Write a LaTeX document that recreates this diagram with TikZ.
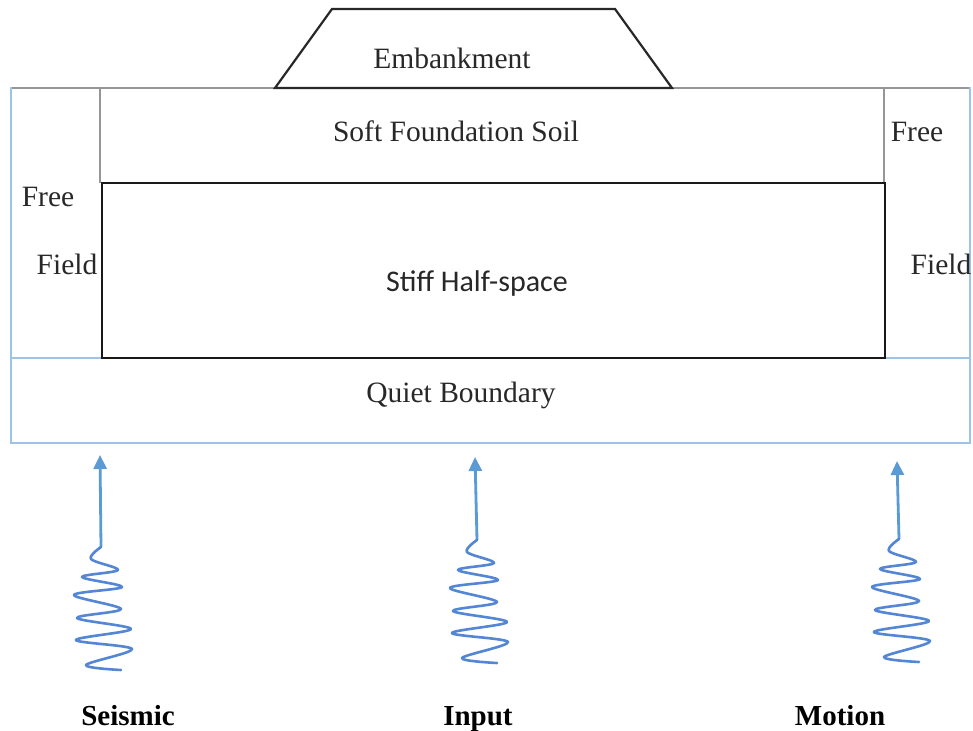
\documentclass[tikz,border=0pt]{standalone}
\usepackage{fontspec}
\setmainfont{Liberation Serif}
\newfontfamily\calibfont{Carlito}
\usetikzlibrary{arrows.meta}
\definecolor{lblue}{RGB}{157,195,230}
\definecolor{ablue}{RGB}{91,155,213}
\definecolor{wblue}{RGB}{84,134,214}
\definecolor{lgray}{RGB}{150,150,150}
\definecolor{dgray}{RGB}{40,40,40}
\begin{document}
\begin{tikzpicture}[x=1pt,y=-1pt,
  lbl/.style={inner sep=0pt, text=dgray, font=\fontsize{29.5}{34}\selectfont},
  sanslbl/.style={inner sep=0pt, text=dgray, font=\calibfont\fontsize{30}{34}\selectfont},
  boldlbl/.style={inner sep=0pt, anchor=base, text=black, font=\bfseries\fontsize{29}{34}\selectfont},
  frame/.style={draw=lblue, line width=1.8pt},
  topline/.style={draw=lgray, line width=1.8pt},
  thinline/.style={draw=lgray, line width=1.3pt},
  blockline/.style={draw=black!90, line width=2.4pt},
  embline/.style={draw=dgray, line width=2.2pt, line join=miter},
  upArrow/.style={draw=ablue, line width=2.8pt, -{Triangle[length=14pt,width=13pt]}},
  waveline/.style={draw=wblue, line width=2.6pt, line cap=round, line join=round}
]
\useasboundingbox (0,0) rectangle (973,730);
\fill[white] (0,0) rectangle (973,730);

% outer frame
\draw[topline] (11,88) -- (275,88);
\draw[topline] (672,88) -- (970,88);
\draw[frame] (11,87.1) -- (11,443) -- (970,443) -- (970,87.1);
\draw[frame] (11,358) -- (970,358);
% free-field separators
\draw[thinline] (100,88) -- (100,183);
\draw[thinline] (884,88) -- (884,183);
% stiff half-space block
\draw[blockline] (102,183) rectangle (885,358);
% embankment
\draw[embline] (275,88) -- (332,9) -- (615,9) -- (672,88) -- cycle;

% labels
\node[lbl] (emb) at (452,58) {Embankment};
\node[lbl] (soft) at (456,131) {Soft Foundation Soil};
\node[lbl] (freeL) at (48,197) {Free};
\node[lbl] (fieldL) at (67,264) {Field};
\node[lbl] (freeR) at (917,132) {Free};
\node[lbl] (fieldR) at (941,264) {Field};
\node[sanslbl] (stiff) at (477,283) {Stiff Half-space};
\node[lbl] (quiet) at (461,395) {Quiet Boundary};
\node[boldlbl] (seis) at (128,725) {Seismic};
\node[boldlbl] (inp) at (478,725) {Input};
\node[boldlbl] (mot) at (840,725) {Motion};

% waves and arrows
\coordinate (s1) at (101,547);
\coordinate (s2) at (477,540);
\coordinate (s3) at (899,539);
\coordinate (t1) at (100,455);
\coordinate (t2) at (475,457);
\coordinate (t3) at (897,461);
\foreach \n in {1,2,3}{
  \draw[upArrow] (s\n) -- (t\n);
  \draw[waveline, shift={(s\n)}] plot[smooth, tension=0.55] coordinates
    {(0,0) (-10,12) (17,23) (-19,30) (21,40) (-27,48) (20,62) (-24,71) (30,82) (-25,93) (31,102) (-15,118) (20,123)};
}
\end{tikzpicture}
\end{document}
